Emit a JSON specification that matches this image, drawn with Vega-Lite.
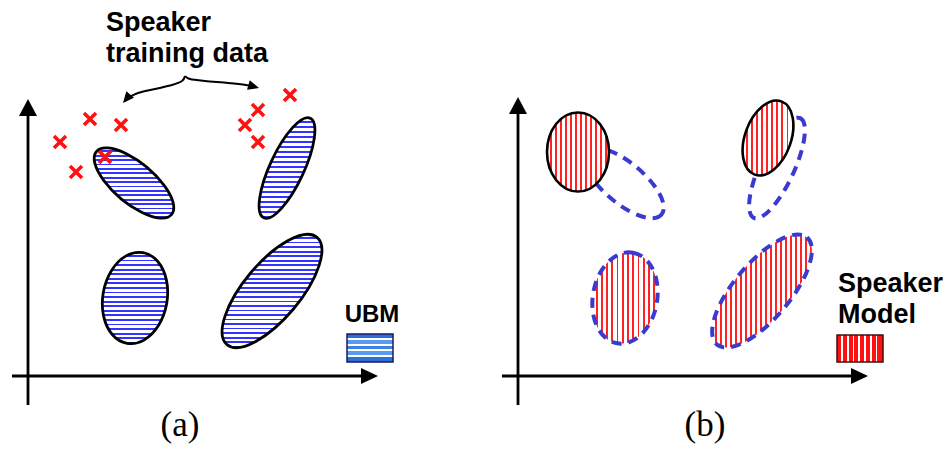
{
"$schema":"https://vega.github.io/schema/vega-lite/v6.json",
"width":947,"height":449,
"autosize":{"type":"fit","contains":"padding"},
"padding":0,
"background":"white",
"config":{"view":{"stroke":null}},
"encoding":{
 "x":{"field":"x","type":"quantitative","scale":{"domain":[0,947],"nice":false,"zero":false},"axis":null},
 "y":{"field":"y","type":"quantitative","scale":{"domain":[0,449],"nice":false,"zero":false,"reverse":true},"axis":null}
},
"layer":[
 {"data":{"values":[{"x":28,"y":405,"x2":28,"y2":112},{"x":12,"y":376,"x2":362,"y2":376},{"x":518,"y":405,"x2":518,"y2":110},{"x":502,"y":376,"x2":852,"y2":376}]},
  "mark":{"type":"rule","color":"black","strokeWidth":2.8},
  "encoding":{"x2":{"field":"x2"},"y2":{"field":"y2"}}},
 {"data":{"values":[{"x":28,"y":108},{"x":518,"y":106}]},
  "mark":{"type":"point","shape":"M 0 -9 L 9 8 L -9 8 Z","size":4,"filled":true,"color":"black","opacity":1}},
 {"data":{"values":[{"x":369,"y":376},{"x":859,"y":376}]},
  "mark":{"type":"point","shape":"M 9 0 L -8 -8 L -8 8 Z","size":4,"filled":true,"color":"black","opacity":1}},
 {"data":{"values":[{"x":134,"y":183}]},
  "mark":{"type":"point","shape":"M 37.53 31.5 A 49 20 40 1 1 -37.53 -31.5 A 49 20 40 1 1 37.53 31.5 Z","size":4,"filled":true,"opacity":1,"stroke":"black","strokeWidth":2.8,
   "fill":{"gradient":"linear","x1":0,"y1":0,"x2":0,"y2":1,"stops":[{"offset":0,"color":"#fff"},{"offset":0.0375,"color":"#fff"},{"offset":0.0375,"color":"#33f"},{"offset":0.0625,"color":"#33f"},{"offset":0.0625,"color":"#fff"},{"offset":0.1,"color":"#fff"},{"offset":0.1,"color":"#33f"},{"offset":0.125,"color":"#33f"},{"offset":0.125,"color":"#fff"},{"offset":0.1625,"color":"#fff"},{"offset":0.1625,"color":"#33f"},{"offset":0.1875,"color":"#33f"},{"offset":0.1875,"color":"#fff"},{"offset":0.225,"color":"#fff"},{"offset":0.225,"color":"#33f"},{"offset":0.25,"color":"#33f"},{"offset":0.25,"color":"#fff"},{"offset":0.2875,"color":"#fff"},{"offset":0.2875,"color":"#33f"},{"offset":0.3125,"color":"#33f"},{"offset":0.3125,"color":"#fff"},{"offset":0.35,"color":"#fff"},{"offset":0.35,"color":"#33f"},{"offset":0.375,"color":"#33f"},{"offset":0.375,"color":"#fff"},{"offset":0.4125,"color":"#fff"},{"offset":0.4125,"color":"#33f"},{"offset":0.4375,"color":"#33f"},{"offset":0.4375,"color":"#fff"},{"offset":0.475,"color":"#fff"},{"offset":0.475,"color":"#33f"},{"offset":0.5,"color":"#33f"},{"offset":0.5,"color":"#fff"},{"offset":0.5375,"color":"#fff"},{"offset":0.5375,"color":"#33f"},{"offset":0.5625,"color":"#33f"},{"offset":0.5625,"color":"#fff"},{"offset":0.6,"color":"#fff"},{"offset":0.6,"color":"#33f"},{"offset":0.625,"color":"#33f"},{"offset":0.625,"color":"#fff"},{"offset":0.6625,"color":"#fff"},{"offset":0.6625,"color":"#33f"},{"offset":0.6875,"color":"#33f"},{"offset":0.6875,"color":"#fff"},{"offset":0.725,"color":"#fff"},{"offset":0.725,"color":"#33f"},{"offset":0.75,"color":"#33f"},{"offset":0.75,"color":"#fff"},{"offset":0.7875,"color":"#fff"},{"offset":0.7875,"color":"#33f"},{"offset":0.8125,"color":"#33f"},{"offset":0.8125,"color":"#fff"},{"offset":0.85,"color":"#fff"},{"offset":0.85,"color":"#33f"},{"offset":0.875,"color":"#33f"},{"offset":0.875,"color":"#fff"},{"offset":0.9125,"color":"#fff"},{"offset":0.9125,"color":"#33f"},{"offset":0.9375,"color":"#33f"},{"offset":0.9375,"color":"#fff"},{"offset":0.975,"color":"#fff"},{"offset":0.975,"color":"#33f"},{"offset":1,"color":"#33f"}]}}},
 {"data":{"values":[{"x":287,"y":168}]},
  "mark":{"type":"point","shape":"M 23.24 -49.85 A 55 17 -65 1 1 -23.24 49.85 A 55 17 -65 1 1 23.24 -49.85 Z","size":4,"filled":true,"opacity":1,"stroke":"black","strokeWidth":2.8,
   "fill":{"gradient":"linear","x1":0,"y1":0,"x2":0,"y2":1,"stops":[{"offset":0,"color":"#fff"},{"offset":0.03,"color":"#fff"},{"offset":0.03,"color":"#33f"},{"offset":0.05,"color":"#33f"},{"offset":0.05,"color":"#fff"},{"offset":0.08,"color":"#fff"},{"offset":0.08,"color":"#33f"},{"offset":0.1,"color":"#33f"},{"offset":0.1,"color":"#fff"},{"offset":0.13,"color":"#fff"},{"offset":0.13,"color":"#33f"},{"offset":0.15,"color":"#33f"},{"offset":0.15,"color":"#fff"},{"offset":0.18,"color":"#fff"},{"offset":0.18,"color":"#33f"},{"offset":0.2,"color":"#33f"},{"offset":0.2,"color":"#fff"},{"offset":0.23,"color":"#fff"},{"offset":0.23,"color":"#33f"},{"offset":0.25,"color":"#33f"},{"offset":0.25,"color":"#fff"},{"offset":0.28,"color":"#fff"},{"offset":0.28,"color":"#33f"},{"offset":0.3,"color":"#33f"},{"offset":0.3,"color":"#fff"},{"offset":0.33,"color":"#fff"},{"offset":0.33,"color":"#33f"},{"offset":0.35,"color":"#33f"},{"offset":0.35,"color":"#fff"},{"offset":0.38,"color":"#fff"},{"offset":0.38,"color":"#33f"},{"offset":0.4,"color":"#33f"},{"offset":0.4,"color":"#fff"},{"offset":0.43,"color":"#fff"},{"offset":0.43,"color":"#33f"},{"offset":0.45,"color":"#33f"},{"offset":0.45,"color":"#fff"},{"offset":0.48,"color":"#fff"},{"offset":0.48,"color":"#33f"},{"offset":0.5,"color":"#33f"},{"offset":0.5,"color":"#fff"},{"offset":0.53,"color":"#fff"},{"offset":0.53,"color":"#33f"},{"offset":0.55,"color":"#33f"},{"offset":0.55,"color":"#fff"},{"offset":0.58,"color":"#fff"},{"offset":0.58,"color":"#33f"},{"offset":0.6,"color":"#33f"},{"offset":0.6,"color":"#fff"},{"offset":0.63,"color":"#fff"},{"offset":0.63,"color":"#33f"},{"offset":0.65,"color":"#33f"},{"offset":0.65,"color":"#fff"},{"offset":0.68,"color":"#fff"},{"offset":0.68,"color":"#33f"},{"offset":0.7,"color":"#33f"},{"offset":0.7,"color":"#fff"},{"offset":0.73,"color":"#fff"},{"offset":0.73,"color":"#33f"},{"offset":0.75,"color":"#33f"},{"offset":0.75,"color":"#fff"},{"offset":0.78,"color":"#fff"},{"offset":0.78,"color":"#33f"},{"offset":0.8,"color":"#33f"},{"offset":0.8,"color":"#fff"},{"offset":0.83,"color":"#fff"},{"offset":0.83,"color":"#33f"},{"offset":0.85,"color":"#33f"},{"offset":0.85,"color":"#fff"},{"offset":0.88,"color":"#fff"},{"offset":0.88,"color":"#33f"},{"offset":0.9,"color":"#33f"},{"offset":0.9,"color":"#fff"},{"offset":0.93,"color":"#fff"},{"offset":0.93,"color":"#33f"},{"offset":0.95,"color":"#33f"},{"offset":0.95,"color":"#fff"},{"offset":0.98,"color":"#fff"},{"offset":0.98,"color":"#33f"},{"offset":1,"color":"#33f"}]}}},
 {"data":{"values":[{"x":135,"y":298}]},
  "mark":{"type":"point","shape":"M 7.99 -45.3 A 46 32 -80 1 1 -7.99 45.3 A 46 32 -80 1 1 7.99 -45.3 Z","size":4,"filled":true,"opacity":1,"stroke":"black","strokeWidth":2.8,
   "fill":{"gradient":"linear","x1":0,"y1":0,"x2":0,"y2":1,"stops":[{"offset":0,"color":"#fff"},{"offset":0.03,"color":"#fff"},{"offset":0.03,"color":"#33f"},{"offset":0.05,"color":"#33f"},{"offset":0.05,"color":"#fff"},{"offset":0.08,"color":"#fff"},{"offset":0.08,"color":"#33f"},{"offset":0.1,"color":"#33f"},{"offset":0.1,"color":"#fff"},{"offset":0.13,"color":"#fff"},{"offset":0.13,"color":"#33f"},{"offset":0.15,"color":"#33f"},{"offset":0.15,"color":"#fff"},{"offset":0.18,"color":"#fff"},{"offset":0.18,"color":"#33f"},{"offset":0.2,"color":"#33f"},{"offset":0.2,"color":"#fff"},{"offset":0.23,"color":"#fff"},{"offset":0.23,"color":"#33f"},{"offset":0.25,"color":"#33f"},{"offset":0.25,"color":"#fff"},{"offset":0.28,"color":"#fff"},{"offset":0.28,"color":"#33f"},{"offset":0.3,"color":"#33f"},{"offset":0.3,"color":"#fff"},{"offset":0.33,"color":"#fff"},{"offset":0.33,"color":"#33f"},{"offset":0.35,"color":"#33f"},{"offset":0.35,"color":"#fff"},{"offset":0.38,"color":"#fff"},{"offset":0.38,"color":"#33f"},{"offset":0.4,"color":"#33f"},{"offset":0.4,"color":"#fff"},{"offset":0.43,"color":"#fff"},{"offset":0.43,"color":"#33f"},{"offset":0.45,"color":"#33f"},{"offset":0.45,"color":"#fff"},{"offset":0.48,"color":"#fff"},{"offset":0.48,"color":"#33f"},{"offset":0.5,"color":"#33f"},{"offset":0.5,"color":"#fff"},{"offset":0.53,"color":"#fff"},{"offset":0.53,"color":"#33f"},{"offset":0.55,"color":"#33f"},{"offset":0.55,"color":"#fff"},{"offset":0.58,"color":"#fff"},{"offset":0.58,"color":"#33f"},{"offset":0.6,"color":"#33f"},{"offset":0.6,"color":"#fff"},{"offset":0.63,"color":"#fff"},{"offset":0.63,"color":"#33f"},{"offset":0.65,"color":"#33f"},{"offset":0.65,"color":"#fff"},{"offset":0.68,"color":"#fff"},{"offset":0.68,"color":"#33f"},{"offset":0.7,"color":"#33f"},{"offset":0.7,"color":"#fff"},{"offset":0.73,"color":"#fff"},{"offset":0.73,"color":"#33f"},{"offset":0.75,"color":"#33f"},{"offset":0.75,"color":"#fff"},{"offset":0.78,"color":"#fff"},{"offset":0.78,"color":"#33f"},{"offset":0.8,"color":"#33f"},{"offset":0.8,"color":"#fff"},{"offset":0.83,"color":"#fff"},{"offset":0.83,"color":"#33f"},{"offset":0.85,"color":"#33f"},{"offset":0.85,"color":"#fff"},{"offset":0.88,"color":"#fff"},{"offset":0.88,"color":"#33f"},{"offset":0.9,"color":"#33f"},{"offset":0.9,"color":"#fff"},{"offset":0.93,"color":"#fff"},{"offset":0.93,"color":"#33f"},{"offset":0.95,"color":"#33f"},{"offset":0.95,"color":"#fff"},{"offset":0.98,"color":"#fff"},{"offset":0.98,"color":"#33f"},{"offset":1,"color":"#33f"}]}}},
 {"data":{"values":[{"x":272,"y":291}]},
  "mark":{"type":"point","shape":"M 45 -53.62 A 70 28 -50 1 1 -45 53.62 A 70 28 -50 1 1 45 -53.62 Z","size":4,"filled":true,"opacity":1,"stroke":"black","strokeWidth":2.8,
   "fill":{"gradient":"linear","x1":0,"y1":0,"x2":0,"y2":1,"stops":[{"offset":0,"color":"#fff"},{"offset":0.024,"color":"#fff"},{"offset":0.024,"color":"#33f"},{"offset":0.04,"color":"#33f"},{"offset":0.04,"color":"#fff"},{"offset":0.064,"color":"#fff"},{"offset":0.064,"color":"#33f"},{"offset":0.08,"color":"#33f"},{"offset":0.08,"color":"#fff"},{"offset":0.104,"color":"#fff"},{"offset":0.104,"color":"#33f"},{"offset":0.12,"color":"#33f"},{"offset":0.12,"color":"#fff"},{"offset":0.144,"color":"#fff"},{"offset":0.144,"color":"#33f"},{"offset":0.16,"color":"#33f"},{"offset":0.16,"color":"#fff"},{"offset":0.184,"color":"#fff"},{"offset":0.184,"color":"#33f"},{"offset":0.2,"color":"#33f"},{"offset":0.2,"color":"#fff"},{"offset":0.224,"color":"#fff"},{"offset":0.224,"color":"#33f"},{"offset":0.24,"color":"#33f"},{"offset":0.24,"color":"#fff"},{"offset":0.264,"color":"#fff"},{"offset":0.264,"color":"#33f"},{"offset":0.28,"color":"#33f"},{"offset":0.28,"color":"#fff"},{"offset":0.304,"color":"#fff"},{"offset":0.304,"color":"#33f"},{"offset":0.32,"color":"#33f"},{"offset":0.32,"color":"#fff"},{"offset":0.344,"color":"#fff"},{"offset":0.344,"color":"#33f"},{"offset":0.36,"color":"#33f"},{"offset":0.36,"color":"#fff"},{"offset":0.384,"color":"#fff"},{"offset":0.384,"color":"#33f"},{"offset":0.4,"color":"#33f"},{"offset":0.4,"color":"#fff"},{"offset":0.424,"color":"#fff"},{"offset":0.424,"color":"#33f"},{"offset":0.44,"color":"#33f"},{"offset":0.44,"color":"#fff"},{"offset":0.464,"color":"#fff"},{"offset":0.464,"color":"#33f"},{"offset":0.48,"color":"#33f"},{"offset":0.48,"color":"#fff"},{"offset":0.504,"color":"#fff"},{"offset":0.504,"color":"#33f"},{"offset":0.52,"color":"#33f"},{"offset":0.52,"color":"#fff"},{"offset":0.544,"color":"#fff"},{"offset":0.544,"color":"#33f"},{"offset":0.56,"color":"#33f"},{"offset":0.56,"color":"#fff"},{"offset":0.584,"color":"#fff"},{"offset":0.584,"color":"#33f"},{"offset":0.6,"color":"#33f"},{"offset":0.6,"color":"#fff"},{"offset":0.624,"color":"#fff"},{"offset":0.624,"color":"#33f"},{"offset":0.64,"color":"#33f"},{"offset":0.64,"color":"#fff"},{"offset":0.664,"color":"#fff"},{"offset":0.664,"color":"#33f"},{"offset":0.68,"color":"#33f"},{"offset":0.68,"color":"#fff"},{"offset":0.704,"color":"#fff"},{"offset":0.704,"color":"#33f"},{"offset":0.72,"color":"#33f"},{"offset":0.72,"color":"#fff"},{"offset":0.744,"color":"#fff"},{"offset":0.744,"color":"#33f"},{"offset":0.76,"color":"#33f"},{"offset":0.76,"color":"#fff"},{"offset":0.784,"color":"#fff"},{"offset":0.784,"color":"#33f"},{"offset":0.8,"color":"#33f"},{"offset":0.8,"color":"#fff"},{"offset":0.824,"color":"#fff"},{"offset":0.824,"color":"#33f"},{"offset":0.84,"color":"#33f"},{"offset":0.84,"color":"#fff"},{"offset":0.864,"color":"#fff"},{"offset":0.864,"color":"#33f"},{"offset":0.88,"color":"#33f"},{"offset":0.88,"color":"#fff"},{"offset":0.904,"color":"#fff"},{"offset":0.904,"color":"#33f"},{"offset":0.92,"color":"#33f"},{"offset":0.92,"color":"#fff"},{"offset":0.944,"color":"#fff"},{"offset":0.944,"color":"#33f"},{"offset":0.96,"color":"#33f"},{"offset":0.96,"color":"#fff"},{"offset":0.984,"color":"#fff"},{"offset":0.984,"color":"#33f"},{"offset":1,"color":"#33f"}]}}},
 {"data":{"values":[{"x":90,"y":119},{"x":121,"y":125},{"x":60,"y":142},{"x":76,"y":172},{"x":105,"y":157},{"x":290,"y":95},{"x":258,"y":110},{"x":245,"y":125},{"x":258,"y":142}]},
  "mark":{"type":"point","shape":"M -6 -6 L 6 6 M 6 -6 L -6 6","size":4,"filled":false,"color":"#f11","strokeWidth":3.6,"opacity":1}},
 {"data":{"values":[{"x":185,"y":76,"b":"L","o":0},{"x":182,"y":81,"b":"L","o":1},{"x":172,"y":85,"b":"L","o":2},{"x":155,"y":89,"b":"L","o":3},{"x":138,"y":93,"b":"L","o":4},{"x":128,"y":98,"b":"L","o":5},{"x":125,"y":101,"b":"L","o":6},
   {"x":185,"y":76,"b":"R","o":0},{"x":190,"y":79,"b":"R","o":1},{"x":205,"y":81,"b":"R","o":2},{"x":228,"y":83,"b":"R","o":3},{"x":246,"y":85,"b":"R","o":4},{"x":253,"y":86.5,"b":"R","o":5}]},
  "mark":{"type":"line","color":"black","strokeWidth":2,"interpolate":"cardinal"},
  "encoding":{"detail":{"field":"b"},"order":{"field":"o","type":"quantitative"}}},
 {"data":{"values":[{"x":123,"y":103}]},
  "mark":{"type":"point","shape":"M 0 0 L 10.95 -5.15 L 3.35 -11.65 Z","size":4,"filled":true,"color":"black","opacity":1}},
 {"data":{"values":[{"x":259,"y":88}]},
  "mark":{"type":"point","shape":"M 0 0 L -11.95 1.8 L -9.25 -7.8 Z","size":4,"filled":true,"color":"black","opacity":1}},
 {"data":{"values":[{"x":106,"y":31,"t":"Speaker"},{"x":106,"y":62,"t":"training data"},{"x":838,"y":292,"t":"Speaker"},{"x":838,"y":323,"t":"Model"}]},
  "mark":{"type":"text","align":"left","baseline":"alphabetic","font":"Liberation Sans","fontWeight":"bold","fontSize":27,"color":"black"},
  "encoding":{"text":{"field":"t"}}},
 {"data":{"values":[{"x":372,"y":322,"t":"UBM"}]},
  "mark":{"type":"text","align":"center","baseline":"alphabetic","font":"Liberation Sans","fontWeight":"bold","fontSize":24,"color":"black"},
  "encoding":{"text":{"field":"t"}}},
 {"data":{"values":[{"x":180,"y":436,"t":"(a)"},{"x":705,"y":436,"t":"(b)"}]},
  "mark":{"type":"text","align":"center","baseline":"alphabetic","font":"Liberation Serif","fontSize":35,"color":"black"},
  "encoding":{"text":{"field":"t"}}},
 {"data":{"values":[{"x":347,"y":334,"x2":393,"y2":362}]},
  "mark":{"type":"rect","stroke":"#1a1a60","strokeWidth":1.5,"opacity":1,
   "fill":{"gradient":"linear","x1":0,"y1":0,"x2":0,"y2":1,"stops":[{"offset":0,"color":"#2f6fd8"},{"offset":0.15,"color":"#2f6fd8"},{"offset":0.15,"color":"#fff"},{"offset":0.22,"color":"#fff"},{"offset":0.22,"color":"#5a9af0"},{"offset":0.35,"color":"#5a9af0"},{"offset":0.35,"color":"#fff"},{"offset":0.42,"color":"#fff"},{"offset":0.42,"color":"#3d82e8"},{"offset":0.55,"color":"#3d82e8"},{"offset":0.55,"color":"#fff"},{"offset":0.62,"color":"#fff"},{"offset":0.62,"color":"#5a9af0"},{"offset":0.75,"color":"#5a9af0"},{"offset":0.75,"color":"#fff"},{"offset":0.82,"color":"#fff"},{"offset":0.82,"color":"#2f6fd8"},{"offset":1,"color":"#2f6fd8"}]}},
  "encoding":{"x2":{"field":"x2"},"y2":{"field":"y2"}}},
 {"data":{"values":[{"x":624,"y":183}]},
  "mark":{"type":"point","shape":"M 37.53 31.5 A 49 20 40 1 1 -37.53 -31.5 A 49 20 40 1 1 37.53 31.5 Z","size":4,"filled":false,"opacity":1,"color":"#3a3ad0","strokeWidth":4,"strokeDash":[10,7]}},
 {"data":{"values":[{"x":777,"y":168}]},
  "mark":{"type":"point","shape":"M 23.24 -49.85 A 55 17 -65 1 1 -23.24 49.85 A 55 17 -65 1 1 23.24 -49.85 Z","size":4,"filled":false,"opacity":1,"color":"#3a3ad0","strokeWidth":4,"strokeDash":[10,7]}},
 {"data":{"values":[{"x":578,"y":152}]},
  "mark":{"type":"point","shape":"M -31 0 A 31 39.5 0 1 1 31 0 A 31 39.5 0 1 1 -31 0 Z","size":4,"filled":true,"opacity":1,"stroke":"black","strokeWidth":2.6,
   "fill":{"gradient":"linear","x1":0,"y1":0,"x2":1,"y2":0,"stops":[{"offset":0,"color":"#fff"},{"offset":0.052,"color":"#fff"},{"offset":0.052,"color":"#f22"},{"offset":0.08,"color":"#f22"},{"offset":0.08,"color":"#fff"},{"offset":0.132,"color":"#fff"},{"offset":0.132,"color":"#f22"},{"offset":0.16,"color":"#f22"},{"offset":0.16,"color":"#fff"},{"offset":0.212,"color":"#fff"},{"offset":0.212,"color":"#f22"},{"offset":0.24,"color":"#f22"},{"offset":0.24,"color":"#fff"},{"offset":0.292,"color":"#fff"},{"offset":0.292,"color":"#f22"},{"offset":0.32,"color":"#f22"},{"offset":0.32,"color":"#fff"},{"offset":0.372,"color":"#fff"},{"offset":0.372,"color":"#f22"},{"offset":0.4,"color":"#f22"},{"offset":0.4,"color":"#fff"},{"offset":0.452,"color":"#fff"},{"offset":0.452,"color":"#f22"},{"offset":0.48,"color":"#f22"},{"offset":0.48,"color":"#fff"},{"offset":0.532,"color":"#fff"},{"offset":0.532,"color":"#f22"},{"offset":0.56,"color":"#f22"},{"offset":0.56,"color":"#fff"},{"offset":0.612,"color":"#fff"},{"offset":0.612,"color":"#f22"},{"offset":0.64,"color":"#f22"},{"offset":0.64,"color":"#fff"},{"offset":0.692,"color":"#fff"},{"offset":0.692,"color":"#f22"},{"offset":0.72,"color":"#f22"},{"offset":0.72,"color":"#fff"},{"offset":0.772,"color":"#fff"},{"offset":0.772,"color":"#f22"},{"offset":0.8,"color":"#f22"},{"offset":0.8,"color":"#fff"},{"offset":0.852,"color":"#fff"},{"offset":0.852,"color":"#f22"},{"offset":0.88,"color":"#f22"},{"offset":0.88,"color":"#fff"},{"offset":0.932,"color":"#fff"},{"offset":0.932,"color":"#f22"},{"offset":0.96,"color":"#f22"},{"offset":0.96,"color":"#fff"},{"offset":1,"color":"#fff"}]}}},
 {"data":{"values":[{"x":768,"y":138}]},
  "mark":{"type":"point","shape":"M 13.34 -36.65 A 39 23 -70 1 1 -13.34 36.65 A 39 23 -70 1 1 13.34 -36.65 Z","size":4,"filled":true,"opacity":1,"stroke":"black","strokeWidth":2.6,
   "fill":{"gradient":"linear","x1":0,"y1":0,"x2":1,"y2":0,"stops":[{"offset":0,"color":"#fff"},{"offset":0.065,"color":"#fff"},{"offset":0.065,"color":"#f22"},{"offset":0.1,"color":"#f22"},{"offset":0.1,"color":"#fff"},{"offset":0.165,"color":"#fff"},{"offset":0.165,"color":"#f22"},{"offset":0.2,"color":"#f22"},{"offset":0.2,"color":"#fff"},{"offset":0.265,"color":"#fff"},{"offset":0.265,"color":"#f22"},{"offset":0.3,"color":"#f22"},{"offset":0.3,"color":"#fff"},{"offset":0.365,"color":"#fff"},{"offset":0.365,"color":"#f22"},{"offset":0.4,"color":"#f22"},{"offset":0.4,"color":"#fff"},{"offset":0.465,"color":"#fff"},{"offset":0.465,"color":"#f22"},{"offset":0.5,"color":"#f22"},{"offset":0.5,"color":"#fff"},{"offset":0.565,"color":"#fff"},{"offset":0.565,"color":"#f22"},{"offset":0.6,"color":"#f22"},{"offset":0.6,"color":"#fff"},{"offset":0.665,"color":"#fff"},{"offset":0.665,"color":"#f22"},{"offset":0.7,"color":"#f22"},{"offset":0.7,"color":"#fff"},{"offset":0.765,"color":"#fff"},{"offset":0.765,"color":"#f22"},{"offset":0.8,"color":"#f22"},{"offset":0.8,"color":"#fff"},{"offset":0.865,"color":"#fff"},{"offset":0.865,"color":"#f22"},{"offset":0.9,"color":"#f22"},{"offset":0.9,"color":"#fff"},{"offset":0.965,"color":"#fff"},{"offset":0.965,"color":"#f22"},{"offset":1,"color":"#f22"}]}}},
 {"data":{"values":[{"x":625,"y":298}]},
  "mark":{"type":"point","shape":"M 7.99 -45.3 A 46 32 -80 1 1 -7.99 45.3 A 46 32 -80 1 1 7.99 -45.3 Z","size":4,"filled":true,"opacity":1,"stroke":"#3a3ad0","strokeWidth":4,"strokeDash":[10,7],
   "fill":{"gradient":"linear","x1":0,"y1":0,"x2":1,"y2":0,"stops":[{"offset":0,"color":"#fff"},{"offset":0.052,"color":"#fff"},{"offset":0.052,"color":"#f22"},{"offset":0.08,"color":"#f22"},{"offset":0.08,"color":"#fff"},{"offset":0.132,"color":"#fff"},{"offset":0.132,"color":"#f22"},{"offset":0.16,"color":"#f22"},{"offset":0.16,"color":"#fff"},{"offset":0.212,"color":"#fff"},{"offset":0.212,"color":"#f22"},{"offset":0.24,"color":"#f22"},{"offset":0.24,"color":"#fff"},{"offset":0.292,"color":"#fff"},{"offset":0.292,"color":"#f22"},{"offset":0.32,"color":"#f22"},{"offset":0.32,"color":"#fff"},{"offset":0.372,"color":"#fff"},{"offset":0.372,"color":"#f22"},{"offset":0.4,"color":"#f22"},{"offset":0.4,"color":"#fff"},{"offset":0.452,"color":"#fff"},{"offset":0.452,"color":"#f22"},{"offset":0.48,"color":"#f22"},{"offset":0.48,"color":"#fff"},{"offset":0.532,"color":"#fff"},{"offset":0.532,"color":"#f22"},{"offset":0.56,"color":"#f22"},{"offset":0.56,"color":"#fff"},{"offset":0.612,"color":"#fff"},{"offset":0.612,"color":"#f22"},{"offset":0.64,"color":"#f22"},{"offset":0.64,"color":"#fff"},{"offset":0.692,"color":"#fff"},{"offset":0.692,"color":"#f22"},{"offset":0.72,"color":"#f22"},{"offset":0.72,"color":"#fff"},{"offset":0.772,"color":"#fff"},{"offset":0.772,"color":"#f22"},{"offset":0.8,"color":"#f22"},{"offset":0.8,"color":"#fff"},{"offset":0.852,"color":"#fff"},{"offset":0.852,"color":"#f22"},{"offset":0.88,"color":"#f22"},{"offset":0.88,"color":"#fff"},{"offset":0.932,"color":"#fff"},{"offset":0.932,"color":"#f22"},{"offset":0.96,"color":"#f22"},{"offset":0.96,"color":"#fff"},{"offset":1,"color":"#fff"}]}}},
 {"data":{"values":[{"x":762,"y":291}]},
  "mark":{"type":"point","shape":"M 45 -53.62 A 70 28 -50 1 1 -45 53.62 A 70 28 -50 1 1 45 -53.62 Z","size":4,"filled":true,"opacity":1,"stroke":"#3a3ad0","strokeWidth":4,"strokeDash":[10,7],
   "fill":{"gradient":"linear","x1":0,"y1":0,"x2":1,"y2":0,"stops":[{"offset":0,"color":"#fff"},{"offset":0.0325,"color":"#fff"},{"offset":0.0325,"color":"#f22"},{"offset":0.05,"color":"#f22"},{"offset":0.05,"color":"#fff"},{"offset":0.0825,"color":"#fff"},{"offset":0.0825,"color":"#f22"},{"offset":0.1,"color":"#f22"},{"offset":0.1,"color":"#fff"},{"offset":0.1325,"color":"#fff"},{"offset":0.1325,"color":"#f22"},{"offset":0.15,"color":"#f22"},{"offset":0.15,"color":"#fff"},{"offset":0.1825,"color":"#fff"},{"offset":0.1825,"color":"#f22"},{"offset":0.2,"color":"#f22"},{"offset":0.2,"color":"#fff"},{"offset":0.2325,"color":"#fff"},{"offset":0.2325,"color":"#f22"},{"offset":0.25,"color":"#f22"},{"offset":0.25,"color":"#fff"},{"offset":0.2825,"color":"#fff"},{"offset":0.2825,"color":"#f22"},{"offset":0.3,"color":"#f22"},{"offset":0.3,"color":"#fff"},{"offset":0.3325,"color":"#fff"},{"offset":0.3325,"color":"#f22"},{"offset":0.35,"color":"#f22"},{"offset":0.35,"color":"#fff"},{"offset":0.3825,"color":"#fff"},{"offset":0.3825,"color":"#f22"},{"offset":0.4,"color":"#f22"},{"offset":0.4,"color":"#fff"},{"offset":0.4325,"color":"#fff"},{"offset":0.4325,"color":"#f22"},{"offset":0.45,"color":"#f22"},{"offset":0.45,"color":"#fff"},{"offset":0.4825,"color":"#fff"},{"offset":0.4825,"color":"#f22"},{"offset":0.5,"color":"#f22"},{"offset":0.5,"color":"#fff"},{"offset":0.5325,"color":"#fff"},{"offset":0.5325,"color":"#f22"},{"offset":0.55,"color":"#f22"},{"offset":0.55,"color":"#fff"},{"offset":0.5825,"color":"#fff"},{"offset":0.5825,"color":"#f22"},{"offset":0.6,"color":"#f22"},{"offset":0.6,"color":"#fff"},{"offset":0.6325,"color":"#fff"},{"offset":0.6325,"color":"#f22"},{"offset":0.65,"color":"#f22"},{"offset":0.65,"color":"#fff"},{"offset":0.6825,"color":"#fff"},{"offset":0.6825,"color":"#f22"},{"offset":0.7,"color":"#f22"},{"offset":0.7,"color":"#fff"},{"offset":0.7325,"color":"#fff"},{"offset":0.7325,"color":"#f22"},{"offset":0.75,"color":"#f22"},{"offset":0.75,"color":"#fff"},{"offset":0.7825,"color":"#fff"},{"offset":0.7825,"color":"#f22"},{"offset":0.8,"color":"#f22"},{"offset":0.8,"color":"#fff"},{"offset":0.8325,"color":"#fff"},{"offset":0.8325,"color":"#f22"},{"offset":0.85,"color":"#f22"},{"offset":0.85,"color":"#fff"},{"offset":0.8825,"color":"#fff"},{"offset":0.8825,"color":"#f22"},{"offset":0.9,"color":"#f22"},{"offset":0.9,"color":"#fff"},{"offset":0.9325,"color":"#fff"},{"offset":0.9325,"color":"#f22"},{"offset":0.95,"color":"#f22"},{"offset":0.95,"color":"#fff"},{"offset":0.9825,"color":"#fff"},{"offset":0.9825,"color":"#f22"},{"offset":1,"color":"#f22"}]}}},
 {"data":{"values":[{"x":837,"y":335,"x2":883,"y2":362}]},
  "mark":{"type":"rect","stroke":"#401010","strokeWidth":1.5,"opacity":1,
   "fill":{"gradient":"linear","x1":0,"y1":0,"x2":1,"y2":0,"stops":[{"offset":0,"color":"#f11"},{"offset":0.09,"color":"#f11"},{"offset":0.09,"color":"#fff"},{"offset":0.125,"color":"#fff"},{"offset":0.125,"color":"#f11"},{"offset":0.215,"color":"#f11"},{"offset":0.215,"color":"#fff"},{"offset":0.25,"color":"#fff"},{"offset":0.25,"color":"#f11"},{"offset":0.34,"color":"#f11"},{"offset":0.34,"color":"#fff"},{"offset":0.375,"color":"#fff"},{"offset":0.375,"color":"#f11"},{"offset":0.465,"color":"#f11"},{"offset":0.465,"color":"#fff"},{"offset":0.5,"color":"#fff"},{"offset":0.5,"color":"#f11"},{"offset":0.59,"color":"#f11"},{"offset":0.59,"color":"#fff"},{"offset":0.625,"color":"#fff"},{"offset":0.625,"color":"#f11"},{"offset":0.715,"color":"#f11"},{"offset":0.715,"color":"#fff"},{"offset":0.75,"color":"#fff"},{"offset":0.75,"color":"#f11"},{"offset":0.84,"color":"#f11"},{"offset":0.84,"color":"#fff"},{"offset":0.875,"color":"#fff"},{"offset":0.875,"color":"#f11"},{"offset":1,"color":"#f11"}]}},
  "encoding":{"x2":{"field":"x2"},"y2":{"field":"y2"}}}
]
}
